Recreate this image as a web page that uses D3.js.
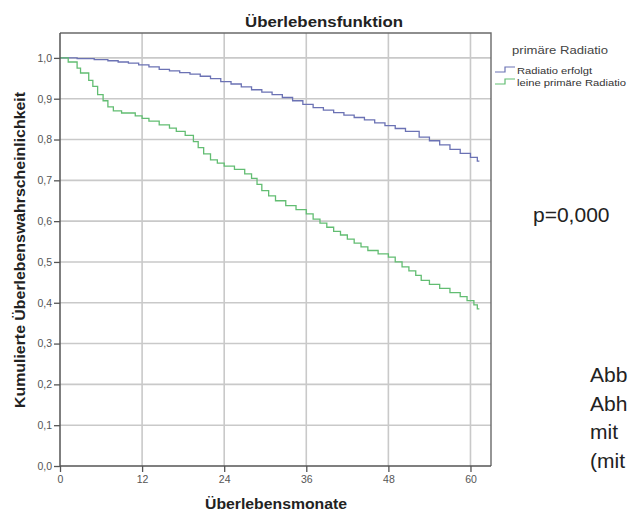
<!DOCTYPE html>
<html>
<head>
<meta charset="utf-8">
<script src="https://cdn.jsdelivr.net/npm/d3@7"></script>
<style>
  html, body { margin: 0; padding: 0; background: #fff; }
  svg { display: block; }
  text { font-family: "Liberation Sans", Arial, sans-serif; }
</style>
</head>
<body>
<svg id="chart" width="628" height="512"></svg>
<script>
// Kaplan-Meier survival estimates: [month, cumulative survival]
const radiatioErfolgt = [
  [0, 1.0], [2.5, 0.998], [5, 0.996], [7, 0.993], [8.5, 0.99], [10, 0.987],
  [11.5, 0.983], [13, 0.978], [14.5, 0.972], [16, 0.968], [17.5, 0.964],
  [19, 0.96], [20.5, 0.955], [22, 0.949], [23.5, 0.942], [25, 0.936],
  [26.5, 0.929], [28, 0.922], [29.5, 0.916], [31, 0.91], [32.5, 0.903],
  [34, 0.895], [35.5, 0.886], [37, 0.878], [38.5, 0.872], [40, 0.866],
  [41.5, 0.86], [43, 0.854], [44.5, 0.848], [46, 0.841], [47.5, 0.834],
  [49, 0.827], [50.5, 0.82], [52.5, 0.806], [54, 0.797], [55.5, 0.787],
  [57, 0.776], [58.5, 0.766], [60, 0.756], [61, 0.747], [61.3, 0.747]
];
const keineRadiatio = [
  [0, 1.0], [1.2, 0.99], [2.5, 0.975], [3, 0.963], [4.2, 0.945], [4.8, 0.93],
  [5.5, 0.91], [6.3, 0.895], [7, 0.88], [7.8, 0.87], [9, 0.865], [11, 0.858],
  [12, 0.852], [13, 0.845], [14.5, 0.836], [16, 0.828], [17, 0.82],
  [18.3, 0.81], [19.5, 0.795], [20.2, 0.78], [21, 0.765], [22, 0.75],
  [23, 0.742], [24, 0.735], [25.5, 0.727], [27, 0.716], [28, 0.705],
  [28.8, 0.69], [29.5, 0.675], [30.5, 0.662], [31.5, 0.65], [33, 0.638],
  [34.5, 0.628], [36, 0.618], [37, 0.605], [38, 0.595], [39, 0.585],
  [40, 0.575], [41, 0.566], [42, 0.556], [43, 0.546], [44, 0.537],
  [45, 0.528], [46.5, 0.52], [48, 0.512], [49, 0.5], [50, 0.488],
  [51, 0.478], [52, 0.467], [52.8, 0.455], [54, 0.445], [55.5, 0.435],
  [57, 0.425], [58.5, 0.415], [59.5, 0.405], [60.5, 0.395], [61, 0.385],
  [61.3, 0.385]
];

const xTicks = [0, 12, 24, 36, 48, 60];
const yTicks = [0, 0.1, 0.2, 0.3, 0.4, 0.5, 0.6, 0.7, 0.8, 0.9, 1.0];
const seriesNames = ["Radiatio erfolgt", "leine primäre Radiatio"];
const seriesColors = ["#6b72b4", "#62bd72"];
const sideLines = ["Abb", "Abh", "mit", "(mit"];

const svg = d3.select("#chart");
const plotL = 60, plotR = 491, plotT = 33, plotB = 466;

const x = d3.scaleLinear().domain([0, 63]).range([plotL, plotR]);
const y = d3.scaleLinear().domain([0, 1.061]).range([plotB, plotT]);

// grid
const grid = svg.append("g");
grid.selectAll("line.v").data(xTicks.filter(d => d > 0)).join("line")
  .attr("x1", d => x(d)).attr("x2", d => x(d))
  .attr("y1", plotT).attr("y2", plotB)
  .attr("stroke", "#c9c9c9").attr("stroke-width", 1.6);
grid.selectAll("line.h").data(yTicks.filter(d => d > 0)).join("line")
  .attr("x1", plotL).attr("x2", plotR)
  .attr("y1", d => y(d)).attr("y2", d => y(d))
  .attr("stroke", "#c9c9c9").attr("stroke-width", 1.6);

// frame (top and right)
svg.append("path")
  .attr("d", `M${plotL},${plotT}H${plotR}V${plotB}`)
  .attr("fill", "none").attr("stroke", "#6a6a6a").attr("stroke-width", 1.4);

// survival curves
const line = d3.line().x(d => x(d[0])).y(d => y(d[1])).curve(d3.curveStepAfter);
[radiatioErfolgt, keineRadiatio].forEach((s, i) => {
  svg.append("path").datum(s)
    .attr("d", line)
    .attr("fill", "none")
    .attr("stroke", seriesColors[i])
    .attr("stroke-width", 1.3);
});

// axes
const xAxis = svg.append("g").attr("transform", `translate(0,${plotB})`)
  .call(d3.axisBottom(x).tickValues(xTicks).tickSize(6).tickPadding(4).tickFormat(d3.format("d")));
const yAxis = svg.append("g").attr("transform", `translate(${plotL},0)`)
  .call(d3.axisLeft(y).tickValues(yTicks).tickSize(6).tickPadding(2)
    .tickFormat(d => d3.format(".1f")(d).replace(".", ",")));
[xAxis, yAxis].forEach(g => {
  g.select(".domain").attr("stroke", "#555").attr("stroke-width", 1.5);
  g.selectAll(".tick line").attr("stroke", "#555").attr("stroke-width", 1.3);
  g.selectAll(".tick text").attr("fill", "#555").attr("font-size", 10.5);
});
yAxis.select(".domain").attr("d", `M0,${plotB}V${plotT}`);
xAxis.select(".domain").attr("d", `M${plotL},0H${plotR}`);

// titles
svg.append("text").attr("x", 245).attr("y", 26.5)
  .attr("font-size", 15).attr("font-weight", "bold").attr("fill", "#222")
  .attr("textLength", 158).attr("lengthAdjust", "spacingAndGlyphs")
  .text("Überlebensfunktion");
svg.append("text").attr("x", 205).attr("y", 508.5)
  .attr("font-size", 14).attr("font-weight", "bold").attr("fill", "#222")
  .attr("textLength", 142).attr("lengthAdjust", "spacingAndGlyphs")
  .text("Überlebensmonate");
svg.append("text")
  .attr("transform", `translate(25,408) rotate(-90)`)
  .attr("font-size", 14).attr("font-weight", "bold").attr("fill", "#222")
  .attr("textLength", 316).attr("lengthAdjust", "spacingAndGlyphs")
  .text("Kumulierte Überlebenswahrscheinlichkeit");

// legend
const legend = svg.append("g");
legend.append("text").attr("x", 512).attr("y", 53.5)
  .attr("font-size", 11).attr("fill", "#444")
  .attr("textLength", 96).attr("lengthAdjust", "spacingAndGlyphs")
  .text("primäre Radiatio");
const legendWidths = [75, 109];
seriesNames.forEach((name, i) => {
  const ly = 74 + i * 12;
  legend.append("path")
    .attr("d", `M495,${ly - 2}H505V${ly - 7}H515`)
    .attr("fill", "none").attr("stroke", seriesColors[i]).attr("stroke-width", 1.2);
  legend.append("text").attr("x", 517).attr("y", ly)
    .attr("font-size", 9.5).attr("fill", "#333")
    .attr("textLength", legendWidths[i]).attr("lengthAdjust", "spacingAndGlyphs")
    .text(name);
});

// side annotations
svg.append("text").attr("x", 533).attr("y", 222)
  .attr("font-size", 21).attr("fill", "#222").text("p=0,000");
svg.selectAll("text.side").data(sideLines).join("text")
  .attr("x", 590).attr("y", (d, i) => 382 + i * 28.5)
  .attr("font-size", 21).attr("fill", "#222").text(d => d);
</script>
</body>
</html>
